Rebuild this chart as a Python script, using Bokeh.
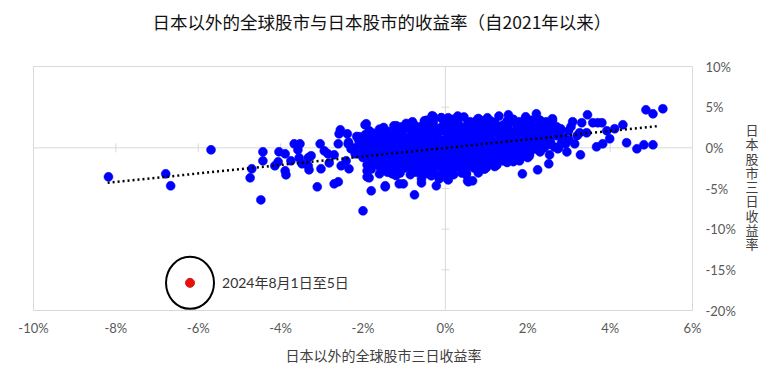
from bokeh.plotting import figure
from bokeh.models import Span, Title, FixedTicker, PrintfTickFormatter, Range1d, LinearAxis
from bokeh.core.properties import value
from bokeh.embed import file_html
from bokeh.resources import INLINE

# ---------------- data (3-day returns, %) ----------------
# left tail (global < -2.2%)
tail_x = [-8.18, -6.79, -6.67, -5.69, -4.43, -4.43, -4.70, -4.74, -4.48, -4.04, -3.89,
          -4.06, -4.14, -3.89, -3.87, -3.75, -3.67, -3.53, -3.58, -3.55, -3.48, -3.33,
          -3.26, -3.31, -3.33, -3.11, -3.04, -3.02, -2.94, -2.85, -2.82, -2.70, -2.60,
          -2.70, -2.60, -2.58, -2.55, -2.38, -2.36, -2.41, -2.34, -2.53, -2.29, -2.19]
tail_y = [-3.57, -3.20, -4.67, -0.25, -0.49, -1.60, -2.58, -3.69, -6.40, -0.49, -0.74,
          -1.72, -2.21, -2.83, -3.32, -1.60, 0.49, 0.49, -0.25, -1.23, -1.97, -1.23,
          -0.98, -2.71, -2.21, -4.80, 0.49, -2.58, -0.37, -0.74, -1.85, -4.43, -4.18,
          -0.86, 0.49, 1.72, 2.21, 1.72, 0.49, -1.60, -2.58, -2.21, -0.12, -0.74]

# scattered points around the central cloud
edge_x = [-2.09, -1.97, -1.95, -2.00, -1.80, -1.85, -1.90, -1.68, -1.85, -1.68, -1.46,
          -1.39, -1.19, -1.12, -1.02, -0.75, -0.83, -0.51, -0.29, -0.58, -0.34, -0.22,
          0.10, 0.07, -0.10, -0.34, 0.51, 0.54, -1.92, -1.19, -0.51, -0.32, 0.75,
          -1.46, -0.15, 0.07, 0.51, 0.66, -1.90, -1.29, -0.58, -0.39, 1.02, 1.53,
          1.95, 2.21, 2.60, 2.34, 2.80, 2.17, 2.53, 2.51, 2.24, 1.87, 1.80,
          2.04, 0.95, 0.80, 1.19, 0.56, 0.05, 2.60, 2.46, 2.75, 2.82, 0.30]
edge_y = [1.35, 1.11, 2.83, -7.75, -5.29, -3.69, -2.83, 1.72, -0.25, -1.60, -4.80,
          1.48, 2.71, -4.43, -4.43, -5.78, 2.46, 2.95, 3.81, -4.31, -3.44, -4.67,
          -2.83, 3.69, 3.69, 2.46, -3.08, -4.06, 2.95, 2.58, 3.32, 3.94, 3.32,
          -4.67, -3.81, -3.94, -3.32, -4.06, -3.57, -3.20, -3.81, -3.20, 3.69, 4.06,
          3.81, 4.18, 3.32, 3.08, 2.34, -0.12, -0.86, -1.97, -2.71, -3.20, -1.60,
          -0.98, -2.58, -3.08, -1.60, -4.18, -3.81, 3.57, 2.71, 0.00, 0.62, 3.90]

# right side (global > 2.7%)
right_x = [5.28, 4.87, 5.04, 5.04, 4.82, 4.65, 4.40, 4.31, 4.11, 3.99, 3.82,
           3.67, 3.92, 3.80, 3.70, 3.58, 3.45, 3.26, 2.85, 2.92, 2.73, 3.31,
           3.43, 3.14, 3.28, 3.09, 2.99, 3.00, 3.20, 2.95, 3.05]
right_y = [4.80, 4.67, 4.18, 0.37, 0.37, -0.12, 0.62, 2.83, 2.34, 1.11, 0.49,
           0.12, 2.09, 3.08, 3.08, 3.08, 4.06, 1.85, 1.23, 0.49, -0.12, 3.08,
           1.85, 0.49, -0.86, 3.20, 2.09, 1.00, 1.50, -0.50, 2.60]

# dense central cloud, one line per band
core_x = [-0.45, -0.1, 0.2, 0.45, 0.8, 1.1, 1.3, 1.65, 1.95, 2.3,
          -1.25, -0.95, -0.75, -0.5, -0.3, -0.05, 0.15, 0.35, 0.55, 0.8, 0.95, 1.2, 1.4, 1.6, 1.85, 2.05, 2.3, 2.55,
          -1.85, -1.6, -1.4, -1.15, -0.95, -0.7, -0.5, -0.25, -0.05, 0.2, 0.4, 0.6, 0.85, 1.05, 1.25, 1.5, 1.7, 1.9, 2.15, 2.35, 2.6, 2.8,
          -2.15, -1.95, -1.7, -1.5, -1.3, -1.05, -0.85, -0.6, -0.4, -0.2, 0.05, 0.25, 0.45, 0.7, 0.9, 1.1, 1.35, 1.55, 1.75, 2.0, 2.2, 2.45, 2.7,
          -2.35, -2.1, -1.9, -1.65, -1.45, -1.2, -1.0, -0.8, -0.55, -0.35, -0.1, 0.1, 0.3, 0.55, 0.75, 0.95, 1.2, 1.4, 1.6, 1.85, 2.05, 2.3, 2.55,
          -2.2, -2.0, -1.8, -1.55, -1.35, -1.1, -0.9, -0.7, -0.45, -0.25, 0.0, 0.2, 0.4, 0.65, 0.85, 1.05, 1.3, 1.5, 1.7, 1.95, 2.15, 2.4, 2.65,
          -2.1, -1.85, -1.65, -1.45, -1.2, -1.0, -0.75, -0.55, -0.35, -0.1, 0.1, 0.3, 0.55, 0.75, 0.95, 1.2, 1.4, 1.6, 1.85, 2.05, 2.3,
          -2.0, -1.75, -1.55, -1.3, -1.1, -0.85, -0.65, -0.4, -0.2, 0.05, 0.25, 0.45, 0.7, 0.9, 1.1, 1.35, 1.55, 1.8, 2.0,
          -1.9, -1.65, -1.4, -1.2, -0.95, -0.75, -0.5, -0.3, -0.05, 0.15, 0.4, 0.6, 0.8, 1.05, 1.25, 1.5,
          -1.8, -1.5, -1.25, -1.0, -0.8, -0.55, -0.3, -0.05, 0.2, 0.45, 0.7, 0.95,
          -1.6, -1.2, -0.85, -0.5, -0.15, 0.2]
core_y = [3.4, 3.7, 3.5, 3.8, 3.6, 3.3, 3.9, 3.5, 3.6, 3.4,
          2.7, 3.0, 2.8, 2.9, 3.1, 2.8, 3.0, 2.7, 3.1, 2.9, 2.6, 3.0, 2.8, 3.1, 2.9, 2.7, 3.0, 2.8,
          2.1, 2.3, 2.0, 2.2, 2.4, 2.1, 2.3, 2.0, 2.2, 2.4, 2.1, 2.2, 2.3, 2.0, 2.2, 2.4, 2.1, 2.3, 2.2, 2.0, 2.3, 2.1,
          1.4, 1.6, 1.5, 1.3, 1.6, 1.5, 1.4, 1.7, 1.5, 1.3, 1.6, 1.4, 1.5, 1.7, 1.4, 1.6, 1.5, 1.3, 1.6, 1.5, 1.4, 1.6, 1.5,
          0.7, 0.9, 0.8, 0.6, 0.9, 0.8, 0.7, 1.0, 0.8, 0.6, 0.9, 0.8, 0.7, 0.9, 0.8, 1.0, 0.7, 0.8, 0.9, 0.7, 0.8, 0.9, 0.8,
          0.0, 0.2, 0.1, -0.1, 0.2, 0.0, 0.1, 0.3, 0.0, 0.2, 0.1, -0.1, 0.2, 0.1, 0.0, 0.2, 0.1, 0.3, 0.0, 0.1, 0.2, 0.0, 0.1,
          -0.7, -0.5, -0.6, -0.8, -0.5, -0.7, -0.6, -0.4, -0.7, -0.5, -0.6, -0.8, -0.5, -0.6, -0.7, -0.5, -0.6, -0.4, -0.7, -0.6, -0.5,
          -1.2, -1.4, -1.3, -1.1, -1.4, -1.3, -1.2, -1.5, -1.3, -1.2, -1.4, -1.3, -1.1, -1.4, -1.3, -1.2, -1.4, -1.3, -1.2,
          -2.1, -1.9, -2.0, -2.2, -1.9, -2.1, -2.0, -1.8, -2.1, -2.0, -1.9, -2.2, -2.0, -1.9, -2.1, -1.8,
          -2.6, -2.8, -2.7, -2.5, -2.8, -2.6, -2.7, -2.9, -2.6, -2.7, -2.5, -2.6,
          -3.2, -3.4, -3.3, -3.2, -3.4, -3.3]

# more points inside the cloud (between the bands above)
core2_x = [-0.8, -0.3, 0.05, 0.3, 0.6, 0.9, 1.2, 1.5, 1.8, 2.1, 2.45,
           -1.5, -1.05, -0.85, -0.6, -0.4, -0.15, 0.05, 0.25, 0.45, 0.7, 0.9, 1.1, 1.3, 1.5, 1.75, 1.95, 2.2, 2.45, 2.7,
           -1.75, -1.5, -1.25, -1.05, -0.8, -0.6, -0.35, -0.15, 0.1, 0.3, 0.5, 0.75, 0.95, 1.15, 1.4, 1.6, 1.8, 2.05, 2.25, 2.5,
           -2.0, -1.8, -1.55, -1.35, -1.1, -0.9, -0.65, -0.45, -0.2, 0.0, 0.2, 0.4, 0.65, 0.85, 1.05, 1.3, 1.5, 1.7, 1.95, 2.15, 2.4,
           -2.0, -1.75, -1.5, -1.3, -1.05, -0.85, -0.6, -0.4, -0.15, 0.05, 0.25, 0.5, 0.7, 0.9, 1.1, 1.35, 1.55, 1.8, 2.0, 2.25, 2.5,
           -1.95, -1.7, -1.45, -1.25, -1.05, -0.8, -0.6, -0.35, -0.15, 0.1, 0.3, 0.5, 0.7, 0.9, 1.15, 1.35, 1.55, 1.8, 2.0, 2.25,
           -1.9, -1.6, -1.35, -1.1, -0.9, -0.65, -0.45, -0.2, 0.0, 0.2, 0.4, 0.65, 0.85, 1.05, 1.3, 1.5, 1.7, 1.95,
           -1.8, -1.5, -1.25, -1.0, -0.8, -0.55, -0.35, -0.1, 0.1, 0.35, 0.55, 0.75, 0.95, 1.2, 1.4, 1.65,
           -1.6, -1.3, -1.05, -0.85, -0.6, -0.4, -0.2, 0.05, 0.3, 0.5, 0.75, 1.0, 1.2,
           -1.4, -1.1, -0.7, -0.35, 0.0, 0.4]
core2_y = [3.2, 3.3, 3.1, 3.4, 3.2, 3.3, 3.1, 3.3, 3.2, 3.4, 3.2,
           2.5, 2.6, 2.4, 2.6, 2.5, 2.4, 2.6, 2.5, 2.4, 2.6, 2.5, 2.4, 2.6, 2.5, 2.4, 2.6, 2.5, 2.4, 2.6,
           1.8, 1.9, 1.7, 1.9, 1.8, 2.0, 1.8, 1.9, 1.7, 1.9, 1.8, 1.9, 2.0, 1.8, 1.9, 1.7, 1.9, 1.8, 1.9, 1.8,
           1.1, 1.2, 1.1, 1.2, 1.0, 1.2, 1.1, 1.2, 1.1, 1.0, 1.2, 1.1, 1.2, 1.1, 1.2, 1.0, 1.2, 1.1, 1.2, 1.1, 1.2,
           0.4, 0.5, 0.4, 0.5, 0.4, 0.5, 0.4, 0.6, 0.4, 0.5, 0.4, 0.5, 0.4, 0.6, 0.4, 0.5, 0.4, 0.5, 0.4, 0.5, 0.4,
           -0.3, -0.2, -0.3, -0.2, -0.3, -0.2, -0.3, -0.2, -0.3, -0.2, -0.3, -0.2, -0.3, -0.2, -0.3, -0.2, -0.3, -0.2, -0.3, -0.2,
           -0.9, -1.0, -0.9, -1.0, -0.9, -1.0, -0.9, -1.0, -0.9, -1.0, -0.9, -1.0, -0.9, -1.0, -0.9, -1.0, -0.9, -1.0,
           -1.6, -1.7, -1.6, -1.7, -1.6, -1.7, -1.6, -1.7, -1.6, -1.7, -1.6, -1.7, -1.6, -1.7, -1.6, -1.7,
           -2.3, -2.4, -2.3, -2.4, -2.3, -2.4, -2.3, -2.4, -2.3, -2.4, -2.3, -2.4, -2.3,
           -3.0, -3.1, -3.0, -2.9, -3.0, -3.1]

# highlighted observation: 2024-08-01 to 08-05
aug_x = [-6.2]
aug_y = [-16.6]
aug_label = ["2024年8月1日至5日"]

# dotted linear trend, end points
trend_x = [-8.2, 5.2]
trend_y = [-4.3, 2.7]

x_ticks = [-10, -8, -6, -4, -2, 0, 2, 4, 6]
y_ticks = [-20, -15, -10, -5, 0, 5, 10]

title_text = "日本以外的全球股市与日本股市的收益率（自2021年以来）"
x_title = "日本以外的全球股市三日收益率"
y_title = "日本股市三日收益率"

global_ret = tail_x + edge_x + right_x + core_x + core2_x
japan_ret = tail_y + edge_y + right_y + core_y + core2_y
assert len(global_ret) == len(japan_ret)

# ---------------- figure ----------------
CJK = "Noto Sans CJK SC"
NUM = "Lato, 'Noto Sans CJK SC'"
W, H = 770, 380

p = figure(width=W, height=H, x_range=Range1d(-10, 6), y_range=Range1d(-20, 10),
           y_axis_location="right", output_backend="svg", toolbar_location=None,
           min_border_left=33, min_border_right=W - 692, min_border_top=66, min_border_bottom=H - 310)
p.xgrid.visible = False
p.ygrid.visible = False
p.outline_line_color = "#d9d9d9"
p.outline_line_width = 1
p.background_fill_color = "white"
p.border_fill_color = "white"

# stacked, upright y title: one character per tick of an auxiliary right axis
p.extra_y_ranges = {"ytitle": Range1d(start=12.70, end=-4.42)}
yt_axis = LinearAxis(y_range_name="ytitle")
p.add_layout(yt_axis, "right")

for ax in (p.xaxis[0], p.yaxis[0], yt_axis):
    ax.axis_line_color = None
    ax.major_tick_line_color = None
    ax.minor_tick_line_color = None
    ax.major_tick_out = 0
    ax.major_tick_in = 0
    ax.minor_tick_out = 0
    ax.minor_tick_in = 0
for ax in (p.xaxis[0], p.yaxis[0]):
    ax.formatter = PrintfTickFormatter(format="%d%%")
    ax.major_label_text_font = "Lato"
    ax.major_label_text_font_size = "13px"
    ax.major_label_text_color = "#595959"
p.xaxis.ticker = FixedTicker(ticks=x_ticks)
p.yaxis[0].ticker = FixedTicker(ticks=y_ticks)
p.xaxis.major_label_standoff = 9
p.yaxis[0].major_label_standoff = 13

yt_axis.ticker = FixedTicker(ticks=list(range(len(y_title))))
yt_axis.major_label_overrides = {i: ch for i, ch in enumerate(y_title)}
yt_axis.major_label_text_font = CJK
yt_axis.major_label_text_font_size = "13px"
yt_axis.major_label_text_color = "#404040"
yt_axis.major_label_standoff = 7

# zero lines with small tick marks
p.add_layout(Span(location=0, dimension="width", line_color="#d9d9d9", line_width=1, level="underlay"))
p.add_layout(Span(location=0, dimension="height", line_color="#d9d9d9", line_width=1, level="underlay"))
p.scatter(x=[t for t in x_ticks if t != 0], y=[0] * (len(x_ticks) - 1), marker="dash", angle=1.5708,
          size=9, line_color="#d9d9d9", line_width=1, level="underlay")
p.scatter(x=[0] * (len(y_ticks) - 1), y=[t for t in y_ticks if t != 0], marker="dash",
          size=8, line_color="#d9d9d9", line_width=1, level="underlay")

# data
p.scatter(x=global_ret, y=japan_ret, size=9, fill_color="#0000ff", line_color="#0000ff", line_width=0.5)
p.line(x=trend_x, y=trend_y, line_color="black", line_width=2.5, line_dash="2 3")

# highlighted point
p.ellipse(x=aug_x, y=aug_y, width=48, height=52, width_units="screen", height_units="screen",
          fill_color=None, line_color="black", line_width=2)
p.scatter(x=aug_x, y=aug_y, size=9, fill_color="#e3120b", line_color="#e3120b")
p.text(x=aug_x, y=aug_y, text=aug_label, x_offset=32, text_baseline="middle", text_align="left",
       text_font=value(NUM), text_font_size="14px", text_color="#333333")

# titles (a blank spacer title keeps the main title high above the frame)
p.add_layout(Title(text=" ", text_font_size="14px"), "above")
p.add_layout(Title(text=title_text, align="left", offset=119, text_font=CJK,
                   text_font_size="17.5px", text_font_style="normal", text_color="#111111"), "above")
p.add_layout(Title(text=x_title, align="left", offset=252, standoff=8, text_font=CJK,
                   text_font_size="14px", text_font_style="normal", text_color="#404040"), "below")

open("out.html", "w").write(file_html(p, INLINE))
